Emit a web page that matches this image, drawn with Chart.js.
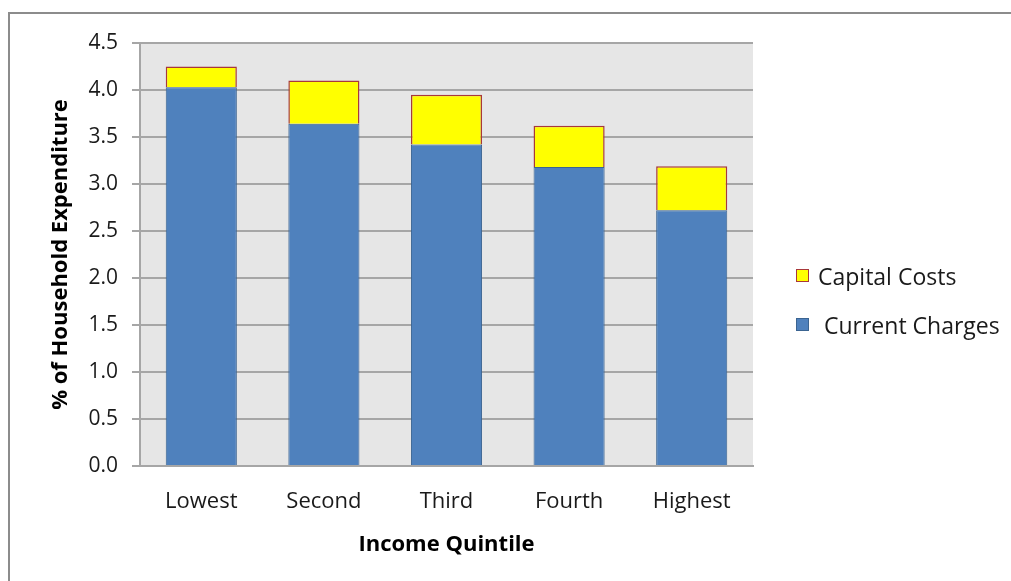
<!DOCTYPE html>
<html>
<head>
<meta charset="utf-8">
<script src="https://cdn.jsdelivr.net/npm/chart.js@4"></script>
<style>
    html, body { margin: 0; padding: 0; background: #fff; }
    #wrap { position: relative; width: 1011px; height: 581px; overflow: hidden; }
    #frame { position: absolute; left: 8px; top: 12px; width: 1100px; height: 700px; border: 2px solid #8c8c8c; box-sizing: border-box; }
    #legend { position: absolute; left: 796px; top: 260px; font-family: "Open Sans", sans-serif; font-size: 23px; color: #1a1a1a; white-space: pre; }
    #legend div { height: 49px; display: flex; align-items: flex-start; }
    #legend span.box { width: 11px; height: 11px; margin-top: 9px; margin-right: 9px; border: 1px solid; }
</style>
</head>
<body>
<div id="wrap">
    <div id="frame"></div>
    <canvas id="chart" width="1011" height="581"></canvas>
    <div id="legend"></div>
</div>
<script>
const quintiles = ['Lowest', 'Second', 'Third', 'Fourth', 'Highest'];
const currentCharges = [4.03, 3.64, 3.42, 3.18, 2.72];
const capitalCosts = [0.22, 0.46, 0.53, 0.44, 0.47];
const yTicks = [0, 0.5, 1, 1.5, 2, 2.5, 3, 3.5, 4, 4.5];

const font = '"Open Sans", sans-serif';

const plotBackground = {
    id: 'plotBackground',
    beforeDraw(chart) {
        let { ctx, chartArea } = chart;
        ctx.save();
        ctx.fillStyle = '#e6e6e6';
        ctx.fillRect(chartArea.left, chartArea.top, chartArea.right - chartArea.left, chartArea.bottom - chartArea.top);
        ctx.restore();
    }
};

let ctx = document.getElementById('chart').getContext('2d');
let chart = new Chart(ctx, {
    type: 'bar',
    data: {
        labels: quintiles,
        datasets: [{
            label: ' Current Charges',
            data: currentCharges,
            backgroundColor: '#4f81bd',
            borderColor: '#3b6491',
            borderWidth: 1,
            barPercentage: 0.58,
            categoryPercentage: 1
        }, {
            label: 'Capital Costs',
            data: capitalCosts,
            backgroundColor: '#ffff00',
            borderColor: '#a8383a',
            borderWidth: 1.5,
            barPercentage: 0.58,
            categoryPercentage: 1
        }]
    },
    options: {
        responsive: false,
        animation: false,
        layout: {
            padding: { left: 40, right: 258, top: 43, bottom: 15 }
        },
        plugins: {
            legend: { display: false },
            tooltip: { enabled: false }
        },
        scales: {
            x: {
                stacked: true,
                afterFit(scale) { scale.height = 100; },
                grid: { display: false, drawTicks: false },
                border: { display: true, color: '#a6a6a6', width: 2 },
                ticks: {
                    padding: 23,
                    color: '#1a1a1a',
                    font: { family: font, size: 22 }
                },
                title: {
                    display: true,
                    text: 'Income Quintile',
                    color: '#000',
                    padding: { top: 4, bottom: 8 },
                    font: { family: font, size: 22, weight: 'bold' }
                }
            },
            y: {
                stacked: true,
                min: 0,
                max: 4.5,
                afterFit(scale) { scale.width = 100; },
                afterBuildTicks(scale) { scale.ticks = yTicks.map(v => ({ value: v })); },
                grid: { color: '#a6a6a6', lineWidth: 2, tickLength: 8 },
                border: { display: true, color: '#a6a6a6', width: 2 },
                ticks: {
                    padding: 14,
                    color: '#1a1a1a',
                    font: { family: font, size: 21 },
                    callback: v => v.toFixed(1)
                },
                title: {
                    display: true,
                    text: '% of Household Expenditure',
                    color: '#000',
                    padding: { top: 8, bottom: 0 },
                    font: { family: font, size: 22, weight: 'bold' }
                }
            }
        }
    },
    plugins: [plotBackground]
});

// legend in reverse stack order, as in the original
let legend = document.getElementById('legend');
chart.data.datasets.slice().reverse().forEach(ds => {
    let row = document.createElement('div');
    let box = document.createElement('span');
    box.className = 'box';
    box.style.background = ds.backgroundColor;
    box.style.borderColor = ds.borderColor;
    row.appendChild(box);
    row.appendChild(document.createTextNode(ds.label));
    legend.appendChild(row);
});
</script>
</body>
</html>
